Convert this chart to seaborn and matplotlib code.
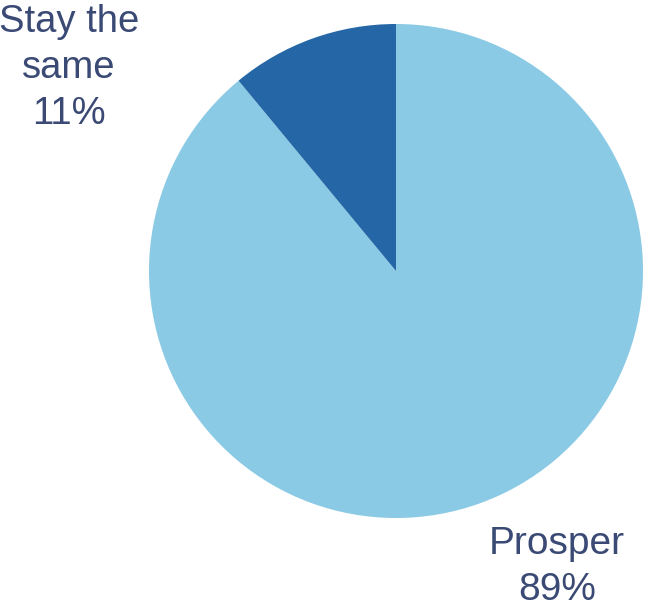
import matplotlib
matplotlib.use("Agg")
import matplotlib.pyplot as plt
import seaborn as sns

categories = ["Prosper", "Stay the\nsame"]
values = [89, 11]
colors = ["#8ACAE5", "#2566A6"]
text_color = "#3A4A74"

sns.set_theme(style="white")
plt.rcParams['font.family'] = ['Liberation Sans', 'DejaVu Sans']

W, H = 645, 610
fig = plt.figure(figsize=(W / 100, H / 100), dpi=100)
cx, cy, r = 396, 271, 247
ax = fig.add_axes([(cx - r) / W, (H - cy - r) / H, 2 * r / W, 2 * r / H])
ax.pie(values, colors=colors, startangle=90, counterclock=False,
       wedgeprops=dict(linewidth=0), radius=1)
ax.set_xlim(-1, 1)
ax.set_ylim(-1, 1)
ax.set_aspect('equal')
ax.axis('off')

labels = [f"{c}\n{v}%" for c, v in zip(categories, values)]
fig.text(557 / W, 1 - 567 / H, labels[0], ha='center', va='center',
         fontsize=28, color=text_color, linespacing=1.37)
fig.text(69 / W, 1 - 68 / H, labels[1], ha='center', va='center',
         fontsize=27.5, color=text_color, linespacing=1.37)

fig.savefig("out.png", dpi=100)
